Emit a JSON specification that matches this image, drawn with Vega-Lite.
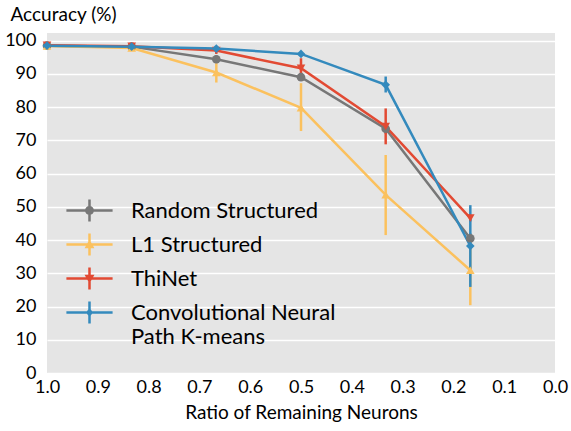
{
  "$schema": "https://vega.github.io/schema/vega-lite/v6.json",
  "width": 508,
  "height": 340,
  "autosize": "none",
  "padding": {"left": 47, "top": 33, "right": 16, "bottom": 58},
  "background": "white",
  "config": {
    "view": {"fill": "#E5E5E5", "stroke": null},
    "font": "Lato",
    "axis": {
      "domain": false,
      "ticks": false,
      "labelFont": "Lato",
      "labelFontSize": 18,
      "labelColor": "#000000",
      "titleFont": "Lato",
      "titleFontSize": 19,
      "titleFontWeight": "normal",
      "titleColor": "#000000"
    },
    "legend": {
      "orient": "none",
      "legendX": 26,
      "legendY": 161,
      "title": null,
      "labelFont": "Lato",
      "labelFontSize": 22,
      "labelColor": "#000000",
      "labelLimit": 400,
      "labelOffset": 25,
      "rowPadding": 6,
      "symbolSize": 1089,
      "symbolStrokeWidth": 0
    }
  },
  "data": {
    "values": [
      {"method": "Random Structured", "ratio": 1.0, "acc": 98.5, "lo": 98.5, "hi": 98.5},
      {"method": "Random Structured", "ratio": 0.8333, "acc": 98.2, "lo": 97.9, "hi": 98.5},
      {"method": "Random Structured", "ratio": 0.6667, "acc": 94.4, "lo": 93.2, "hi": 95.6},
      {"method": "Random Structured", "ratio": 0.5, "acc": 89.0, "lo": 88.0, "hi": 90.0},
      {"method": "Random Structured", "ratio": 0.3333, "acc": 73.5, "lo": 72.0, "hi": 75.0},
      {"method": "Random Structured", "ratio": 0.1667, "acc": 40.5, "lo": 39.0, "hi": 42.0},
      {"method": "L1 Structured", "ratio": 1.0, "acc": 98.4, "lo": 98.2, "hi": 98.6},
      {"method": "L1 Structured", "ratio": 0.8333, "acc": 97.8, "lo": 96.9, "hi": 98.7},
      {"method": "L1 Structured", "ratio": 0.6667, "acc": 90.4, "lo": 87.4, "hi": 93.2},
      {"method": "L1 Structured", "ratio": 0.5, "acc": 79.8, "lo": 72.8, "hi": 87.2},
      {"method": "L1 Structured", "ratio": 0.3333, "acc": 53.6, "lo": 41.5, "hi": 65.6},
      {"method": "L1 Structured", "ratio": 0.1667, "acc": 30.9, "lo": 20.4, "hi": 41.4},
      {"method": "ThiNet", "ratio": 1.0, "acc": 98.6, "lo": 98.4, "hi": 98.8},
      {"method": "ThiNet", "ratio": 0.8333, "acc": 98.3, "lo": 98.0, "hi": 98.6},
      {"method": "ThiNet", "ratio": 0.6667, "acc": 97.0, "lo": 96.0, "hi": 98.0},
      {"method": "ThiNet", "ratio": 0.5, "acc": 91.7, "lo": 89.2, "hi": 94.7},
      {"method": "ThiNet", "ratio": 0.3333, "acc": 74.2, "lo": 68.8, "hi": 79.6},
      {"method": "ThiNet", "ratio": 0.1667, "acc": 46.6, "lo": 45.6, "hi": 47.6},
      {"method": "Convolutional Neural Path K-means", "ratio": 1.0, "acc": 98.5, "lo": 98.3, "hi": 98.7},
      {"method": "Convolutional Neural Path K-means", "ratio": 0.8333, "acc": 98.2, "lo": 98.0, "hi": 98.4},
      {"method": "Convolutional Neural Path K-means", "ratio": 0.6667, "acc": 97.6, "lo": 97.2, "hi": 98.0},
      {"method": "Convolutional Neural Path K-means", "ratio": 0.5, "acc": 96.0, "lo": 95.4, "hi": 96.6},
      {"method": "Convolutional Neural Path K-means", "ratio": 0.3333, "acc": 86.7, "lo": 84.4, "hi": 89.2},
      {"method": "Convolutional Neural Path K-means", "ratio": 0.1667, "acc": 38.2, "lo": 25.9, "hi": 50.5}
    ]
  },
  "encoding": {
    "x": {
      "field": "ratio", "type": "quantitative",
      "scale": {"domain": [0, 1], "reverse": true},
      "axis": {
        "title": "Ratio of Remaining Neurons",
        "grid": false,
        "values": [0, 0.1, 0.2, 0.3, 0.4, 0.5, 0.6, 0.7, 0.8, 0.9, 1.0],
        "format": ".1f",
        "labelFlush": false,
        "labelOverlap": false,
        "labelPadding": 5,
        "titlePadding": 7
      }
    },
    "y": {
      "field": "acc", "type": "quantitative",
      "scale": {"domain": [0, 102.3]},
      "axis": {
        "title": "Accuracy (%)",
        "grid": true,
        "gridColor": "#FFFFFF",
        "gridWidth": 1.3,
        "values": [0, 10, 20, 30, 40, 50, 60, 70, 80, 90, 100],
        "labelPadding": 11,
        "titleAngle": 0,
        "titleAlign": "left",
        "titleBaseline": "middle",
        "titleX": -37,
        "titleY": -19
      }
    },
    "color": {
      "field": "method", "type": "nominal",
      "scale": {
        "domain": ["Random Structured", "L1 Structured", "ThiNet", "Convolutional Neural Path K-means"],
        "range": ["#777777", "#FBC15E", "#E24A33", "#348ABD"]
      },
      "legend": {
        "labelExpr": "datum.label == 'Convolutional Neural Path K-means' ? ['Convolutional Neural', '\u00a0Path K-means'] : datum.label"
      }
    }
  },
  "layer": [
    {
      "transform": [{"filter": "false"}],
      "mark": {"type": "point", "filled": true, "opacity": 1},
      "encoding": {
        "shape": {
          "field": "method", "type": "nominal",
          "scale": {
            "domain": ["Random Structured", "L1 Structured", "ThiNet", "Convolutional Neural Path K-means"],
            "range": [
              "M-1.4,-0.076H1.4V0.076H-1.4ZM-0.076,-0.67H0.076V0.67H-0.076ZM-0.27,0A0.27,0.27 0 1,1 0.27,0A0.27,0.27 0 1,1 -0.27,0Z",
              "M-1.4,-0.076H1.4V0.076H-1.4ZM-0.076,-0.67H0.076V0.67H-0.076ZM0,-0.3L0.3,0.22L-0.3,0.22Z",
              "M-1.4,-0.076H1.4V0.076H-1.4ZM-0.076,-0.67H0.076V0.67H-0.076ZM0,0.3L-0.3,-0.22L0.3,-0.22Z",
              "M-1.4,-0.076H1.4V0.076H-1.4ZM-0.076,-0.67H0.076V0.67H-0.076ZM0,-0.3L0.2,0L0,0.3L-0.2,0Z"
            ]
          }
        }
      }
    },
    {
      "mark": {"type": "rule", "strokeWidth": 2.5},
      "encoding": {
        "y": {
          "field": "lo", "type": "quantitative",
          "axis": {
            "title": "Accuracy (%)",
            "grid": true,
            "gridColor": "#FFFFFF",
            "gridWidth": 1.3,
            "values": [0, 10, 20, 30, 40, 50, 60, 70, 80, 90, 100],
            "labelPadding": 11,
            "titleAngle": 0,
            "titleAlign": "left",
            "titleBaseline": "middle",
            "titleX": -37,
            "titleY": -19
          }
        },
        "y2": {"field": "hi"}
      }
    },
    {
      "mark": {"type": "line", "strokeWidth": 2.5}
    },
    {
      "transform": [{"filter": "datum.method == 'Random Structured'"}],
      "mark": {"type": "point", "filled": true, "opacity": 1, "size": 75, "shape": "circle"}
    },
    {
      "transform": [{"filter": "datum.method == 'L1 Structured'"}],
      "mark": {"type": "point", "filled": true, "opacity": 1, "size": 75, "shape": "triangle-up"}
    },
    {
      "transform": [{"filter": "datum.method == 'ThiNet'"}],
      "mark": {"type": "point", "filled": true, "opacity": 1, "size": 75, "shape": "triangle-down"}
    },
    {
      "transform": [{"filter": "datum.method == 'Convolutional Neural Path K-means'"}],
      "mark": {"type": "point", "filled": true, "opacity": 1, "size": 75, "shape": "diamond"}
    }
  ]
}
